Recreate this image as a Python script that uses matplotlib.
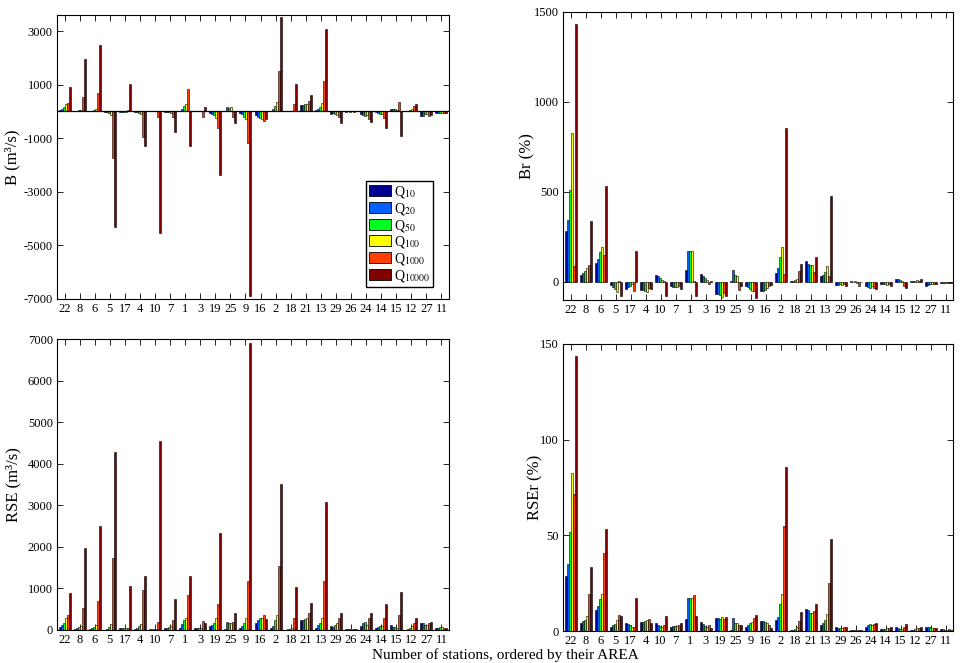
import matplotlib
matplotlib.use("Agg")
import matplotlib.pyplot as plt
import numpy as np
from matplotlib.patches import Patch

plt.rcParams["font.family"] = ["Liberation Serif", "DejaVu Serif"]
plt.rcParams["mathtext.fontset"] = "stix"

stations = ["22", "8", "6", "5", "17", "4", "10", "7", "1", "3", "19", "25", "9",
            "16", "2", "18", "21", "13", "29", "26", "24", "14", "15", "12", "27", "11"]
periods = ["10", "20", "50", "100", "1000", "10000"]
colors = ["#00008f", "#0060ff", "#00ff20", "#ffff00", "#ff4000", "#800000"]

# one row per station: Q10, Q20, Q50, Q100, Q1000, Q10000
bias = [
    [40, 80, 170, 270, 330, 900],
    [10, 20, 40, 70, 535, 1970],
    [15, 25, 50, 100, 675, 2490],
    [-10, -20, -40, -150, -1730, -4300],
    [-20, -20, -20, -15, 40, 1035],
    [-10, -20, -50, -100, -970, -1305],
    [10, 10, 10, 5, -210, -4550],
    [-10, -20, -30, -60, -200, -770],
    [30, 100, 200, 290, 840, -1305],
    [10, 10, 10, 10, -210, 150],
    [-50, -80, -150, -250, -610, -2360],
    [20, 180, 130, 150, -200, -430],
    [-60, -100, -200, -300, -1180, -6900],
    [-150, -200, -250, -280, -350, -270],
    [30, 80, 200, 340, 1515, 3520],
    [10, 15, 20, 30, 280, 1035],
    [245, 245, 260, 280, 405, 625],
    [50, 100, 180, 300, 1155, 3090],
    [-100, -70, -100, -150, -200, -430],
    [-10, 10, -10, 10, -20, 10],
    [-100, -150, -180, -150, -300, -400],
    [-30, -60, -80, -80, -250, -620],
    [100, 80, 80, 70, 340, -920],
    [10, 20, 60, 100, 220, 290],
    [-180, -170, -100, -100, -170, -150],
    [-60, -60, -70, -60, -50, -50],
]

bias_rel = [
    [286, 347, 511, 827, 87, 1435],
    [37, 50, 62, 80, 92, 338],
    [107, 130, 166, 197, 151, 531],
    [-18, -28, -40, -58, 3, -80],
    [-38, -30, -22, -12, -48, 173],
    [-45, -45, -48, -55, -35, -38],
    [40, 33, 22, 10, 5, -80],
    [-25, -30, -30, -30, -20, -40],
    [68, 170, 170, 172, 5, -80],
    [42, 32, 22, 12, -10, 8],
    [-65, -65, -70, -82, -60, -80],
    [5, 68, 40, 35, -45, -25],
    [-25, -30, -40, -48, -50, -87],
    [-48, -48, -45, -35, -20, -15],
    [52, 75, 140, 195, 45, 855],
    [5, 8, 12, 15, 60, 98],
    [114, 100, 95, 97, 55, 138],
    [32, 40, 58, 88, 35, 480],
    [-18, -15, -12, -15, -10, -20],
    [3, 2, 3, -3, -20, 0],
    [-20, -30, -32, -25, -35, -40],
    [-10, -10, -12, -15, -12, -25],
    [18, 15, 10, 5, -20, -35],
    [3, 5, 8, 10, 5, 18],
    [-22, -18, -12, -10, -12, -10],
    [-5, -5, -6, -5, -5, -5],
]

rse = [
    [70, 110, 180, 300, 350, 900],
    [20, 40, 70, 100, 540, 1970],
    [30, 50, 80, 120, 700, 2490],
    [10, 30, 80, 150, 1720, 4290],
    [40, 40, 50, 50, 60, 1050],
    [30, 50, 100, 150, 970, 1290],
    [20, 30, 30, 20, 190, 4540],
    [40, 50, 70, 100, 230, 750],
    [40, 150, 250, 300, 850, 1290],
    [40, 40, 40, 50, 220, 170],
    [100, 120, 180, 300, 620, 2340],
    [20, 190, 170, 160, 200, 400],
    [50, 100, 180, 280, 1180, 6900],
    [180, 230, 280, 300, 360, 270],
    [40, 90, 250, 360, 1530, 3520],
    [10, 15, 20, 40, 280, 1040],
    [250, 250, 270, 290, 400, 650],
    [60, 110, 180, 300, 1170, 3090],
    [100, 70, 110, 160, 280, 420],
    [20, 20, 20, 20, 30, 30],
    [100, 160, 200, 130, 300, 410],
    [50, 80, 90, 100, 280, 630],
    [120, 80, 70, 60, 350, 910],
    [10, 20, 60, 100, 180, 300],
    [180, 180, 120, 120, 180, 190],
    [60, 60, 80, 70, 50, 50],
]

rse_rel = [
    [28.7, 34.8, 51.6, 82.7, 71.8, 143.5],
    [4, 5, 6, 8, 19.5, 33.5],
    [11, 13, 16.5, 19.5, 41, 53.5],
    [2, 3, 3.5, 6, 8.5, 8],
    [4, 3.5, 3, 2, 2, 17.5],
    [4.5, 4.5, 5, 5.5, 6.5, 4],
    [4, 3, 2.5, 2, 3, 8],
    [2, 2.5, 2.5, 2.5, 3, 4],
    [6.5, 17, 17, 17, 19, 8],
    [4.5, 3.5, 2.5, 2, 3, 1.5],
    [7, 7, 6.5, 7.5, 6.5, 7.5],
    [0.5, 7, 4, 4, 3, 3],
    [2, 3, 4, 4.5, 7, 8.5],
    [5, 5, 4.5, 4, 3, 1.5],
    [5.5, 7.5, 14, 19.5, 55, 85.5],
    [0.5, 0.5, 1, 2, 5, 10],
    [11.5, 11, 9.5, 9.5, 10.5, 14],
    [3, 4, 6, 9, 25, 48],
    [2, 1.5, 1.5, 1.5, 2, 2],
    [0.5, 0.5, 0.5, 0.5, 0.5, 0.5],
    [2, 3, 3.5, 3, 3.5, 4],
    [1, 1, 1, 1.5, 1.5, 2],
    [2, 1.5, 1, 1, 2, 3.5],
    [0.5, 0.5, 1, 1.5, 1.5, 2],
    [2, 2, 2, 1.5, 1.5, 1.5],
    [1, 0.8, 0.7, 0.5, 1, 0.5],
]

W, H = 963, 663
fig = plt.figure(figsize=(W / 100, H / 100), dpi=100)


def px_axes(x0, y0, x1, y1):
    return fig.add_axes([x0 / W, 1 - y1 / H, (x1 - x0) / W, (y1 - y0) / H])


def grouped_bars(ax, table, ylim, yticks, ylabel, label_x, zero_line=False):
    vals = np.array(table, dtype=float)
    n = len(stations)
    x = np.arange(1, n + 1)
    w = 0.8 / len(periods)
    for j in range(len(periods)):
        ax.bar(x + (j - 2.5) * w, vals[:, j], width=w, color=colors[j],
               edgecolor="black", linewidth=0.4, zorder=2)
    if zero_line:
        ax.axhline(0, color="black", linewidth=0.9, zorder=3)
    ax.set_xlim(0.5, n + 0.5)
    ax.set_ylim(*ylim)
    ax.set_xticks(x)
    ax.set_xticklabels(stations, fontsize=9)
    ax.set_yticks(yticks)
    ax.set_yticklabels([f"{t:g}" for t in yticks], fontsize=9)
    ax.tick_params(direction="in", length=4, width=0.6, top=True, right=True, pad=3)
    for s in ax.spines.values():
        s.set_linewidth(0.8)
    ax.set_ylabel(ylabel, fontsize=12, va="center")
    # label x given in figure pixels, converted to axes fraction
    bb = ax.get_position()
    ax.yaxis.set_label_coords((label_x / W - bb.x0) / bb.width, 0.5)


ax1 = px_axes(57, 15, 449, 299)
grouped_bars(ax1, bias, (-7000, 3600), [-7000, -5000, -3000, -1000, 1000, 3000],
             "B (m³/s)", 12, zero_line=True)
handles = [Patch(facecolor=c, edgecolor="black", linewidth=0.6) for c in colors]
labels = [f"Q$_{{{p}}}$" for p in periods]
ax1.legend(handles, labels, loc="lower right", bbox_to_anchor=(0.96, 0.042),
           borderaxespad=0, fontsize=10, handlelength=1.6, handleheight=0.85,
           handletextpad=0.15, labelspacing=0.05, borderpad=0.25,
           frameon=True, fancybox=False, edgecolor="black", framealpha=1)

ax2 = px_axes(563, 12, 953, 300)
grouped_bars(ax2, bias_rel, (-100, 1500), [0, 500, 1000, 1500], "Br (%)", 527)

ax3 = px_axes(57, 339, 449, 630)
grouped_bars(ax3, rse, (0, 7000), list(range(0, 7001, 1000)), "RSE (m³/s)", 13)

ax4 = px_axes(563, 344, 953, 631)
grouped_bars(ax4, rse_rel, (0, 150), [0, 50, 100, 150], "RSEr (%)", 535)

fig.text(505 / W, 1 / H, "Number of stations, ordered by their AREA",
         ha="center", va="bottom", fontsize=11)

fig.savefig("out.png", dpi=100)
